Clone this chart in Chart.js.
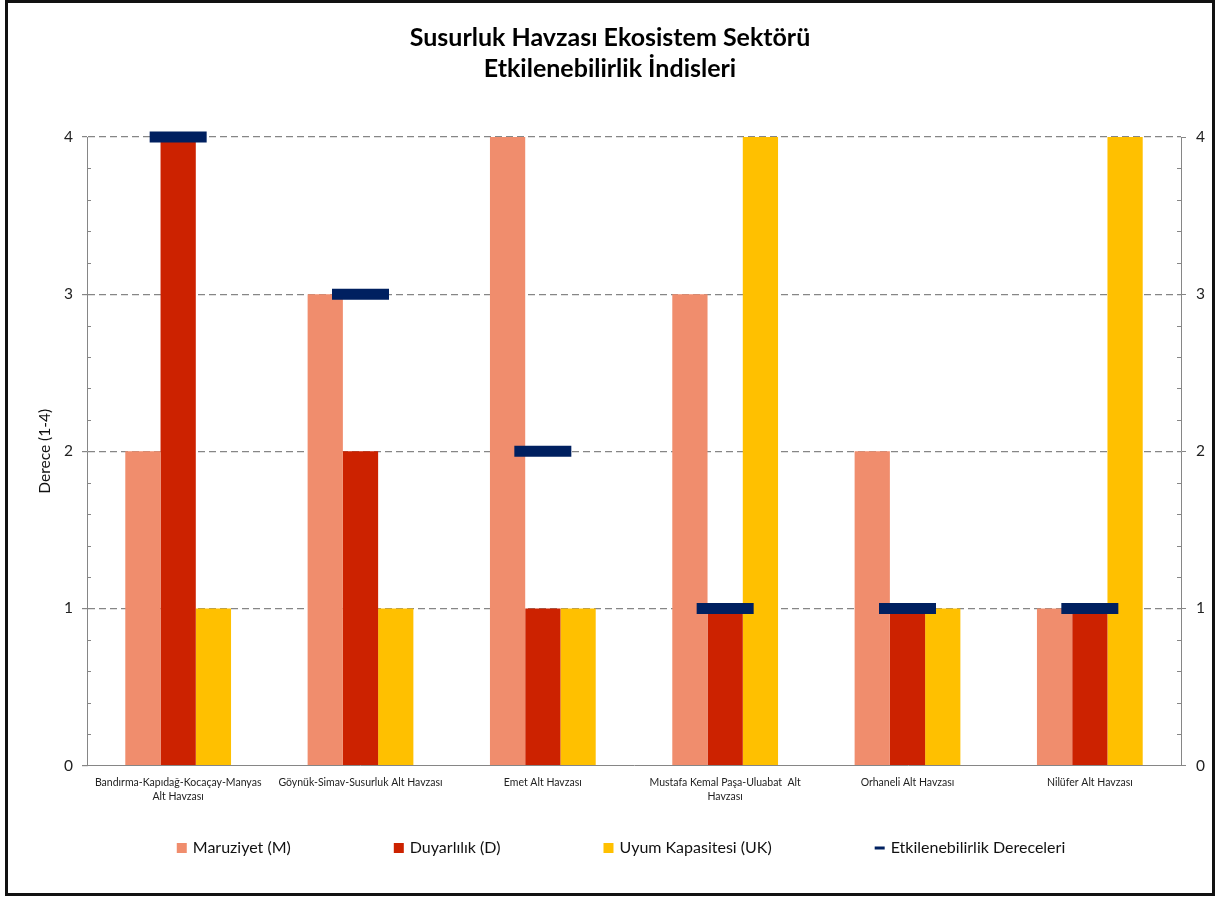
<!DOCTYPE html>
<html>
<head>
<meta charset="utf-8">
<script src="https://cdn.jsdelivr.net/npm/chart.js@4/dist/chart.umd.min.js"></script>
<style>
  body { margin: 0; background: #fff; }
  #frame { position: absolute; left: 5px; top: 0; width: 1204px; height: 890px; border: 3px solid #111; background: #fff; }
  canvas { display: block; }
</style>
</head>
<body>
<div id="frame"><canvas id="vulnGraph" width="1204" height="890"></canvas></div>
<script>
// alt havzalar
var altHavzalar = [
  ['Bandırma-Kapıdağ-Kocaçay-Manyas', 'Alt Havzası'],
  'Göynük-Simav-Susurluk Alt Havzası',
  'Emet Alt Havzası',
  ['Mustafa Kemal Paşa-Uluabat  Alt', 'Havzası'],
  'Orhaneli Alt Havzası',
  'Nilüfer Alt Havzası'
];
var maruziyet   = [2, 3, 4, 3, 2, 1];
var duyarlilik  = [4, 2, 1, 1, 1, 1];
var uyumKap     = [1, 1, 1, 4, 1, 4];
var etkDerece   = [4, 3, 2, 1, 1, 1];
var dereceTicks = [0, 1, 2, 3, 4];

var fontAd = 'Lato, "Open Sans", sans-serif';
var griRenk = '#868686';

// kucuk ara cizgiler (0.2 aralikla), eksenin icine dogru
var araCizgi = {
  id: 'araCizgi',
  afterDatasetsDraw: function (chart) {
    var ctx = chart.ctx;
    ctx.save();
    ctx.strokeStyle = griRenk;
    ctx.lineWidth = 1;
    ['y', 'y2'].forEach(function (id) {
      var sc = chart.scales[id];
      var x = id === 'y' ? sc.right : sc.left;
      var yon = id === 'y' ? 1 : -1;
      for (var k = 1; k < 20; k++) {
        if (k % 5 === 0) continue;
        var py = Math.round(sc.getPixelForValue(k / 5)) + 0.5;
        ctx.beginPath();
        ctx.moveTo(x, py);
        ctx.lineTo(x + yon * 4, py);
        ctx.stroke();
      }
    });
    ctx.restore();
  }
};

// alttaki aciklama satiri
var altAciklama = {
  id: 'altAciklama',
  afterDraw: function (chart, args, opts) {
    var ctx = chart.ctx;
    ctx.save();
    ctx.font = opts.fontSize + 'px ' + fontAd;
    ctx.textBaseline = 'middle';
    var items = chart.data.datasets.map(function (ds) {
      return { text: ds.label, color: ds.type === 'line' ? ds.pointBorderColor : ds.backgroundColor, line: ds.type === 'line' };
    });
    var widths = items.map(function (it) { return opts.box + opts.gap + ctx.measureText(it.text).width; });
    var total = widths.reduce(function (a, b) { return a + b; }, 0) + opts.spacing * (items.length - 1);
    var x = (chart.width - total) / 2 + opts.shift;
    var y = opts.y;
    items.forEach(function (it, i) {
      ctx.fillStyle = it.color;
      if (it.line) {
        ctx.fillRect(x, y - 1.5, opts.box, 3);
      } else {
        ctx.fillRect(x, y - opts.box / 2, opts.box, opts.box);
      }
      ctx.fillStyle = '#111';
      ctx.fillText(it.text, x + opts.box + opts.gap, y);
      x += widths[i] + opts.spacing;
    });
    ctx.restore();
  }
};

var ctx = document.getElementById('vulnGraph').getContext('2d');
var grafik = new Chart(ctx, {
  type: 'bar',
  data: {
    labels: altHavzalar,
    datasets: [{
      label: 'Maruziyet (M)',
      data: maruziyet,
      backgroundColor: '#F08D6D',
      order: 1
    }, {
      label: 'Duyarlılık (D)',
      data: duyarlilik,
      backgroundColor: '#CC2200',
      order: 1
    }, {
      label: 'Uyum Kapasitesi (UK)',
      data: uyumKap,
      backgroundColor: '#FFC000',
      order: 1
    }, {
      type: 'line',
      label: 'Etkilenebilirlik Dereceleri',
      data: etkDerece,
      showLine: false,
      clip: false,
      pointStyle: 'line',
      pointRadius: 28.5,
      pointHoverRadius: 28.5,
      pointBorderWidth: 11,
      pointBorderColor: '#002060',
      borderColor: '#002060',
      order: 0
    }]
  },
  plugins: [araCizgi, altAciklama],
  options: {
    responsive: false,
    animation: false,
    events: [],
    layout: { autoPadding: false, padding: { left: 0, right: 0, top: 0, bottom: 87 } },
    datasets: {
      bar: { categoryPercentage: 0.58, barPercentage: 1.0 }
    },
    plugins: {
      legend: { display: false },
      tooltip: { enabled: false },
      title: {
        display: true,
        text: ['Susurluk Havzası Ekosistem Sektörü', 'Etkilenebilirlik İndisleri'],
        color: '#000',
        font: { family: fontAd, size: 25, weight: 'bold', lineHeight: 1.24 },
        padding: { top: 19, bottom: 53 }
      },
      altAciklama: { fontSize: 16, box: 10, gap: 6, spacing: 103, shift: 11, y: 845 }
    },
    scales: {
      x: {
        grid: { display: false },
        border: { display: true, color: griRenk, width: 1 },
        afterFit: function (sc) { sc.paddingLeft = 0; sc.paddingRight = 0; },
        ticks: {
          color: '#222',
          font: { family: fontAd, size: 10.5, lineHeight: 1.35 },
          padding: 2,
          maxRotation: 0,
          autoSkip: false
        }
      },
      y: {
        position: 'left',
        min: 0,
        max: 4,
        afterBuildTicks: function (sc) { sc.ticks = dereceTicks.map(function (v) { return { value: v }; }); },
        afterFit: function (sc) { sc.width = 79; },
        title: {
          display: true,
          text: 'Derece (1-4)',
          color: '#111',
          font: { family: fontAd, size: 15.5 },
          padding: { top: 28, bottom: 0 }
        },
        grid: {
          color: function (c) { return c.tick && c.tick.value === 0 ? 'rgba(0,0,0,0)' : griRenk; },
          lineWidth: 1.2,
          tickLength: 5,
          tickColor: griRenk,
          tickBorderDash: []
        },
        border: { display: true, color: griRenk, width: 1, dash: [7, 4] },
        ticks: { color: '#222', font: { family: fontAd, size: 15.5 }, padding: 9 }
      },
      y2: {
        position: 'right',
        min: 0,
        max: 4,
        afterBuildTicks: function (sc) { sc.ticks = dereceTicks.map(function (v) { return { value: v }; }); },
        afterFit: function (sc) { sc.width = 31; },
        grid: { drawOnChartArea: false, tickLength: 5, tickColor: griRenk },
        border: { display: true, color: griRenk, width: 1 },
        ticks: { color: '#222', font: { family: fontAd, size: 15.5 }, padding: 10 }
      }
    }
  }
});
</script>
</body>
</html>
